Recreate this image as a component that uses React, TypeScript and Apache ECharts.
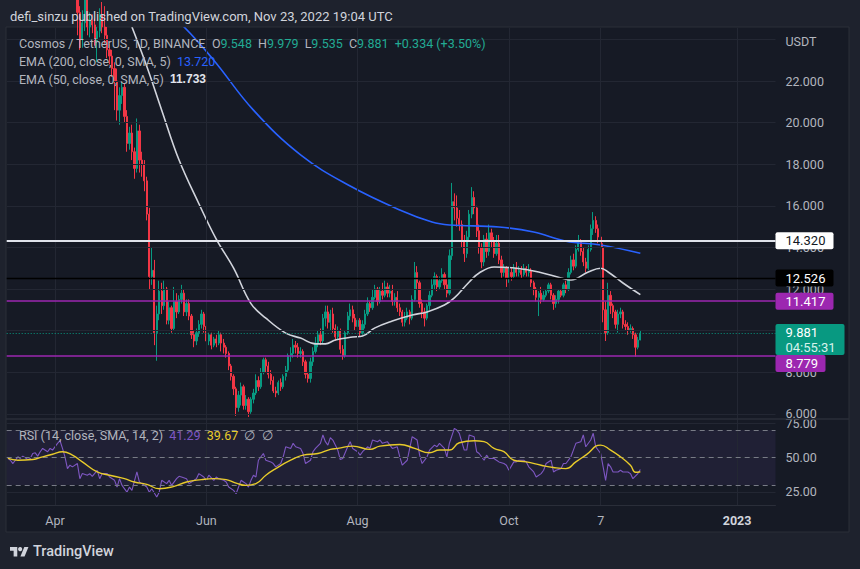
import { useEffect, useRef } from 'react';
import * as echarts from 'echarts';

const FONT = 'Roboto, "Noto Sans", Arial, sans-serif';

// ---- time axis ----
const START_DATE = [2022, 2, 13]; // 2022-03-13 (index 0)
const N_DAYS = 310;
const FIRST_CANDLE = 28; // 2022-04-10
const TIME_TICK_INDEX = [19, 80, 141, 202, 239, 294];
const TIME_TICK_LABELS = ['Apr', 'Jun', 'Aug', 'Oct', '7', '2023'];

// ---- daily candles from 2022-04-10 to 2022-11-23 ----
const OPEN = [
  26.5, 25.3, 24.0, 24.8, 25.9, 24.6, 24.9, 24.7, 23.9, 24.4,
  25.2, 24.6, 24.2, 23.5, 23.2, 22.6, 22.0, 20.6, 21.3, 21.7,
  20.3, 19.0, 19.5, 18.6, 17.8, 19.6, 18.2, 18.0, 17.2, 15.6,
  12.6, 12.9, 9.9, 10.8, 11.9, 11.2, 12.0, 10.5, 11.1, 10.1,
  11.4, 10.9, 11.5, 11.8, 10.9, 11.3, 10.7, 9.8, 9.5, 9.9,
  10.3, 10.8, 10.2, 9.5, 9.8, 9.3, 9.6, 9.4, 9.8, 9.4,
  9.2, 8.9, 8.3, 7.8, 7.2, 6.3, 6.9, 7.3, 6.4, 6.7,
  6.1, 6.7, 7.0, 7.6, 7.3, 8.0, 8.6, 8.3, 7.9, 7.6,
  7.1, 7.0, 7.5, 7.3, 7.8, 8.1, 8.8, 8.9, 9.3, 9.2,
  8.9, 9.0, 8.5, 7.9, 7.7, 8.5, 9.0, 9.4, 9.8, 9.5,
  10.6, 10.9, 10.4, 10.8, 10.1, 9.7, 10.0, 9.1, 8.8, 9.9,
  10.7, 11.0, 10.6, 10.2, 10.5, 9.9, 10.3, 10.8, 11.3, 11.1,
  11.6, 12.0, 11.4, 11.9, 11.7, 12.1, 11.8, 11.9, 11.4, 11.6,
  11.1, 10.9, 10.4, 10.6, 10.9, 10.6, 11.5, 12.8, 12.3, 11.3,
  10.9, 10.6, 11.2, 11.7, 12.2, 12.6, 12.1, 12.4, 12.7, 12.2,
  11.8, 13.6, 16.2, 15.9, 15.4, 15.1, 14.3, 13.7, 14.5, 15.6,
  16.4, 15.9, 14.8, 14.0, 13.3, 14.4, 13.8, 14.7, 14.3, 13.7,
  14.2, 13.4, 12.8, 13.0, 12.5, 12.8, 12.6, 13.0, 12.8, 12.9,
  12.7, 13.0, 12.8, 12.9, 12.3, 12.0, 11.6, 11.8, 11.5, 11.7,
  11.9, 12.2, 11.7, 11.3, 11.5, 11.9, 11.7, 12.2, 12.0, 12.8,
  13.4, 13.1, 13.9, 14.3, 13.8, 13.3, 13.0, 13.9, 14.9, 15.3,
  14.9, 14.5, 14.0, 11.0, 9.9, 11.7, 11.2, 10.9, 10.3, 10.8,
  10.9, 10.3, 10.2, 10.0, 10.1, 9.8, 9.2, 9.548,
];
const CLOSE = [
  25.3, 24.0, 24.8, 25.9, 24.6, 24.9, 24.7, 23.9, 24.4, 25.2,
  24.6, 24.2, 23.5, 23.2, 22.6, 22.0, 20.6, 21.3, 21.7, 20.3,
  19.0, 19.5, 18.6, 17.8, 19.6, 18.2, 18.0, 17.2, 15.6, 12.6,
  12.9, 9.9, 10.8, 11.9, 11.2, 12.0, 10.5, 11.1, 10.1, 11.4,
  10.9, 11.5, 11.8, 10.9, 11.3, 10.7, 9.8, 9.5, 9.9, 10.3,
  10.8, 10.2, 9.5, 9.8, 9.3, 9.6, 9.4, 9.8, 9.4, 9.2,
  8.9, 8.3, 7.8, 7.2, 6.3, 6.9, 7.3, 6.4, 6.7, 6.1,
  6.7, 7.0, 7.6, 7.3, 8.0, 8.6, 8.3, 7.9, 7.6, 7.1,
  7.0, 7.5, 7.3, 7.8, 8.1, 8.8, 8.9, 9.3, 9.2, 8.9,
  9.0, 8.5, 7.9, 7.7, 8.5, 9.0, 9.4, 9.8, 9.5, 10.6,
  10.9, 10.4, 10.8, 10.1, 9.7, 10.0, 9.1, 8.8, 9.9, 10.7,
  11.0, 10.6, 10.2, 10.5, 9.9, 10.3, 10.8, 11.3, 11.1, 11.6,
  12.0, 11.4, 11.9, 11.7, 12.1, 11.8, 11.9, 11.4, 11.6, 11.1,
  10.9, 10.4, 10.6, 10.9, 10.6, 11.5, 12.8, 12.3, 11.3, 10.9,
  10.6, 11.2, 11.7, 12.2, 12.6, 12.1, 12.4, 12.7, 12.2, 11.8,
  13.6, 16.2, 15.9, 15.4, 15.1, 14.3, 13.7, 14.5, 15.6, 16.4,
  15.9, 14.8, 14.0, 13.3, 14.4, 13.8, 14.7, 14.3, 13.7, 14.2,
  13.4, 12.8, 13.0, 12.5, 12.8, 12.6, 13.0, 12.8, 12.9, 12.7,
  13.0, 12.8, 12.9, 12.3, 12.0, 11.6, 11.8, 11.5, 11.7, 11.9,
  12.2, 11.7, 11.3, 11.5, 11.9, 11.7, 12.2, 12.0, 12.8, 13.4,
  13.1, 13.9, 14.3, 13.8, 13.3, 13.0, 13.9, 14.9, 15.3, 14.9,
  14.5, 14.0, 11.0, 9.9, 11.7, 11.2, 10.9, 10.3, 10.8, 10.9,
  10.3, 10.2, 10.0, 10.1, 9.8, 9.2, 9.548, 9.881,
];
const LOW = [
  24.2, 23.5, 23.6, 24.4, 24.2, 24.1, 24.3, 23.7, 22.9, 24.1,
  24.3, 23.8, 23.1, 22.8, 22.2, 20.6, 20.1, 19.9, 20.9, 20.0,
  18.6, 18.7, 18.2, 17.3, 17.6, 17.6, 17.4, 16.7, 15.3, 12.0,
  12.2, 9.3, 8.55, 10.5, 10.8, 11.0, 10.3, 10.3, 9.9, 10.0,
  10.6, 10.8, 11.3, 10.7, 10.7, 10.5, 9.6, 9.2, 9.3, 9.7,
  10.1, 9.9, 9.3, 9.3, 9.1, 9.2, 9.2, 9.3, 9.0, 8.9,
  8.7, 8.1, 7.6, 6.9, 5.9, 6.1, 6.4, 6.2, 6.2, 5.85,
  6.0, 6.5, 6.9, 7.1, 7.2, 7.9, 8.0, 7.7, 7.4, 7.0,
  6.8, 6.9, 7.1, 7.2, 7.6, 8.0, 8.5, 8.7, 8.9, 8.7,
  8.7, 8.3, 7.7, 7.5, 7.5, 8.3, 8.9, 9.2, 9.3, 9.4,
  10.2, 10.1, 10.0, 9.9, 9.5, 9.6, 8.9, 8.6, 8.7, 9.8,
  10.5, 10.4, 10.0, 9.9, 9.7, 9.8, 10.1, 10.7, 10.9, 11.0,
  11.5, 11.2, 11.3, 11.5, 11.6, 11.6, 11.6, 11.2, 11.2, 10.9,
  10.7, 10.2, 10.2, 10.5, 10.3, 10.5, 11.4, 12.0, 11.1, 10.6,
  10.2, 10.5, 11.0, 11.6, 12.0, 11.9, 12.0, 12.3, 12.0, 11.6,
  11.7, 13.4, 15.3, 15.0, 14.8, 14.0, 13.3, 13.5, 14.3, 15.4,
  15.6, 14.5, 13.7, 13.0, 13.1, 13.5, 13.6, 14.0, 13.5, 13.6,
  13.2, 12.5, 12.6, 12.1, 12.3, 12.4, 12.5, 12.6, 12.6, 12.5,
  12.6, 12.6, 12.6, 12.1, 11.7, 11.4, 10.7, 11.3, 11.4, 11.6,
  11.8, 11.5, 11.0, 11.1, 11.3, 11.6, 11.6, 11.8, 11.9, 12.7,
  12.9, 13.0, 13.8, 13.6, 13.1, 12.8, 12.9, 13.8, 14.6, 14.7,
  14.2, 13.8, 10.4, 9.5, 9.8, 10.8, 10.6, 10.1, 9.9, 10.6,
  10.1, 10.0, 9.8, 9.9, 9.6, 8.75, 9.1, 9.535,
];
const HIGH = [
  27.0, 25.6, 25.4, 26.3, 26.2, 25.3, 25.2, 25.0, 24.6, 25.5,
  25.8, 25.6, 24.6, 23.8, 23.5, 22.9, 22.6, 21.7, 22.0, 21.9,
  20.6, 19.8, 19.9, 18.8, 20.2, 19.9, 18.6, 18.2, 17.4, 15.9,
  14.0, 13.4, 11.2, 12.4, 12.3, 12.4, 12.1, 11.4, 11.2, 12.1,
  11.8, 11.7, 12.2, 12.0, 11.5, 11.5, 10.8, 10.0, 10.1, 10.5,
  11.0, 10.9, 10.4, 9.9, 9.9, 9.7, 9.8, 10.0, 9.9, 9.6,
  9.3, 9.0, 8.4, 7.9, 7.3, 7.1, 7.5, 7.4, 6.9, 6.8,
  6.8, 7.2, 7.9, 7.8, 8.2, 8.7, 8.7, 8.5, 8.1, 7.8,
  7.3, 7.6, 7.7, 7.9, 8.3, 8.9, 9.2, 9.6, 9.5, 9.4,
  9.2, 9.1, 8.6, 8.0, 8.7, 9.2, 9.7, 10.0, 10.1, 10.8,
  11.2, 11.2, 11.0, 11.1, 10.3, 10.2, 10.1, 9.3, 10.0, 10.9,
  11.3, 11.2, 10.8, 10.7, 10.6, 10.5, 11.0, 11.6, 11.4, 12.0,
  12.2, 12.1, 12.1, 12.3, 12.4, 12.3, 12.2, 12.2, 11.8, 11.9,
  11.3, 11.0, 10.9, 11.1, 11.0, 11.7, 13.3, 13.1, 12.4, 11.5,
  11.1, 11.3, 11.9, 12.5, 12.8, 12.7, 12.6, 13.0, 12.8, 12.5,
  13.9, 17.1, 16.6, 16.5, 15.8, 15.3, 14.6, 14.8, 15.8, 16.9,
  16.7, 16.0, 15.1, 14.2, 14.6, 14.7, 15.1, 14.9, 14.5, 14.6,
  14.6, 13.6, 13.2, 13.1, 13.0, 13.0, 13.2, 13.3, 13.1, 13.1,
  13.2, 13.1, 13.2, 13.0, 12.4, 12.1, 11.9, 12.1, 11.9, 12.0,
  12.3, 12.3, 11.8, 11.7, 12.0, 12.0, 12.3, 12.4, 13.0, 13.6,
  13.7, 14.1, 14.6, 14.4, 14.0, 13.5, 14.1, 15.1, 15.7, 15.5,
  15.1, 14.7, 14.2, 11.4, 12.3, 11.9, 11.3, 11.0, 11.0, 11.1,
  11.0, 10.5, 10.4, 10.3, 10.2, 9.9, 9.7, 9.979,
];

// ---- moving averages [day index, value] ----
const EMA200 = [
  [67, 24.9], [71, 24.6], [83, 23.0], [99, 20.6], [118, 18.45], [138, 16.95],
  [158, 15.8], [171, 15.22], [178, 15.08], [198, 14.98], [212, 14.74],
  [225, 14.3], [239, 14.12], [255, 13.72],
];
const EMA50 = [
  [50, 24.6], [56, 22.7], [62, 20.6], [69, 18.2], [77, 16.1], [84, 14.4],
  [91, 13.0], [98, 11.3], [104, 10.6], [112, 9.88], [118, 9.64], [124, 9.36],
  [128, 9.36], [132, 9.55], [139, 9.69], [143, 9.74], [148, 10.13], [155, 10.46],
  [163, 10.75], [169, 10.9], [176, 11.23], [180, 11.57], [186, 12.34], [190, 12.77],
  [196, 13.06], [205, 13.0], [214, 12.82], [223, 12.53], [227, 12.43], [234, 12.82],
  [239, 13.0], [242, 12.82], [248, 12.29], [255, 11.733],
];

// ---- RSI (14) and its SMA (14) ----
const RSI = [
  [0, 49.5], [1, 48.0], [2, 45.6], [4, 50.5], [5, 49.3], [6, 51.0], [8, 48.5], [9, 49.3],
  [10, 52.9], [11, 53.4], [12, 51.0], [13, 54.2], [14, 56.6], [16, 54.2], [17, 56.6],
  [18, 55.4], [20, 60.3], [21, 62.2], [22, 56.6], [23, 50.5], [24, 41.9], [25, 44.4],
  [26, 43.2], [28, 45.6], [29, 34.6], [30, 38.3], [32, 37.1], [33, 38.3], [34, 36.3],
  [36, 40.7], [37, 34.6], [38, 38.3], [40, 38.3], [41, 35.8], [43, 33.4], [44, 28.5],
  [45, 34.6], [46, 29.7], [48, 24.8], [49, 28.5], [50, 26.1], [52, 39.5], [53, 32.2],
  [54, 31.0], [56, 28.5], [57, 24.8], [58, 27.3], [60, 21.2], [61, 24.8], [62, 33.4],
  [64, 31.0], [65, 33.4], [66, 29.7], [68, 34.6], [69, 36.3], [70, 35.8], [72, 34.6],
  [73, 31.0], [74, 32.2], [76, 34.6], [77, 38.3], [79, 35.8], [80, 33.4], [81, 37.1],
  [83, 33.4], [84, 35.8], [85, 34.6], [87, 33.4], [88, 32.2], [89, 28.5], [91, 26.1],
  [92, 23.6], [93, 28.5], [94, 33.4], [95, 32.2], [96, 31.0], [97, 28.5], [98, 33.4],
  [99, 37.1], [100, 35.8], [101, 48.0], [103, 52.9], [104, 48.0], [106, 46.8],
  [107, 45.6], [108, 43.2], [110, 45.6], [111, 50.5], [112, 57.8], [114, 56.6],
  [115, 60.3], [116, 57.8], [118, 56.6], [119, 52.9], [120, 45.6], [122, 48.0],
  [123, 54.2], [124, 56.6], [126, 60.3], [127, 66.4], [128, 61.5], [129, 59.0],
  [130, 64.5], [131, 62.7], [133, 55.4], [134, 48.5], [135, 49.3], [137, 57.8],
  [138, 61.5], [139, 56.6], [141, 54.2], [142, 51.7], [143, 54.2], [145, 57.8],
  [146, 56.6], [147, 62.7], [149, 61.5], [150, 62.7], [151, 60.3], [153, 61.5],
  [154, 59.0], [155, 56.6], [157, 57.8], [158, 50.5], [159, 44.4], [161, 48.0],
  [162, 56.6], [163, 65.1], [165, 62.7], [166, 51.7], [167, 45.6], [169, 50.5],
  [170, 55.4], [172, 59.0], [173, 57.8], [174, 60.3], [176, 56.6], [177, 50.5],
  [178, 60.3], [180, 71.2], [181, 70.0], [182, 67.6], [184, 55.4], [185, 55.4],
  [186, 66.4], [188, 65.1], [189, 54.2], [190, 52.9], [192, 48.0], [193, 51.7],
  [194, 49.3], [196, 49.3], [197, 48.0], [198, 46.8], [200, 45.6], [201, 44.4],
  [202, 40.7], [204, 46.8], [205, 46.8], [206, 48.0], [208, 48.0], [209, 46.8],
  [210, 43.2], [212, 39.5], [213, 35.8], [215, 38.3], [216, 40.7], [217, 45.6],
  [219, 48.0], [220, 39.5], [221, 40.7], [223, 41.9], [224, 45.6], [225, 45.6],
  [227, 50.5], [228, 55.4], [229, 60.3], [231, 61.5], [232, 66.4], [233, 57.8],
  [235, 62.7], [236, 67.6], [237, 57.8], [239, 52.9], [240, 43.2], [241, 33.4],
  [242, 45.6], [243, 43.2], [244, 39.5], [246, 39.5], [247, 40.7], [248, 39.5],
  [250, 39.5], [251, 38.3], [252, 34.6], [254, 38.3], [255, 41.29],
];
const RSI_MA = [
  [0, 49.3], [4, 48.0], [10, 48.5], [14, 50.5], [18, 52.4], [22, 54.2], [26, 51.7],
  [30, 46.8], [36, 39.5], [41, 37.1], [47, 34.6], [51, 32.2], [56, 30.5], [61, 27.3],
  [67, 29.0], [72, 32.2], [78, 33.9], [83, 34.6], [88, 33.9], [92, 31.4], [96, 29.7],
  [100, 31.0], [104, 37.1], [108, 41.9], [114, 48.0], [119, 51.7], [125, 52.9],
  [130, 55.9], [133, 56.6], [139, 58.3], [146, 55.9], [150, 58.3], [158, 59.5],
  [164, 56.6], [170, 53.4], [174, 55.4], [178, 55.4], [182, 60.7], [188, 62.2],
  [192, 61.5], [196, 56.6], [200, 54.2], [204, 48.0], [209, 46.8], [215, 44.4],
  [220, 42.7], [225, 41.9], [229, 46.8], [233, 51.7], [239, 59.0], [243, 55.4],
  [247, 50.5], [251, 44.4], [253, 39.3], [255, 39.67],
];

// ---- levels and axes ----
const PRICE_GRID = [6, 8, 10, 12, 14, 16, 18, 20, 22, 24];
const PRICE_LABELS = [6, 8, 10, 12, 14, 16, 18, 20, 22];
const RSI_LABELS = [25, 50, 75];
const RSI_BANDS = [30, 50, 70];
const LEVEL_WHITE = 14.32;
const LEVEL_BLACK = 12.526;
const LEVEL_PURPLE = [11.417, 8.779];
const LAST_PRICE = 9.881;
const COUNTDOWN = '04:55:31';
const CHANGE_TEXT = '+0.334 (+3.50%)';
const RSI_LAST = '41.29';
const RSI_MA_LAST = '39.67';

const UP = '#089981';
const DOWN = '#F23645';
const TEXT = '#B2B5BE';
const GRIDC = '#232733';
const PANEL = '#161A25';
const OUTER = '#1E222D';

const GL = 6.7;
const GW = 768.8;

function buildCategories() {
  const out: string[] = [];
  for (let i = 0; i < N_DAYS; i++) {
    const d = new Date(Date.UTC(START_DATE[0], START_DATE[1], START_DATE[2] + i));
    out.push(d.toISOString().slice(0, 10));
  }
  return out;
}

export default function App() {
  const ref = useRef<HTMLDivElement>(null);
  useEffect(() => {
    document.body.style.margin = '0';
    const chart = echarts.init(ref.current!, null, { renderer: 'svg' });
    const cats = buildCategories();
    const candles: any[] = cats.map((_, i) => {
      const j = i - FIRST_CANDLE;
      if (j < 0 || j >= CLOSE.length) return '-';
      return [OPEN[j], CLOSE[j], LOW[j], HIGH[j]];
    });
    const vGrid = TIME_TICK_INDEX.map((i) => ({ xAxis: i }));
    const hidden = { show: false };

    const option: any = {
      animation: false,
      backgroundColor: OUTER,
      textStyle: { fontFamily: FONT },
      grid: [
        { left: GL, width: GW, top: 28, height: 391 },
        { left: GL, width: GW, top: 419, height: 86 },
      ],
      xAxis: [
        {
          type: 'category', gridIndex: 0, data: cats, boundaryGap: true,
          axisLine: hidden, axisTick: hidden, axisLabel: hidden, splitLine: hidden,
        },
        {
          type: 'category', gridIndex: 1, data: cats, boundaryGap: true,
          axisLine: { show: true, lineStyle: { color: '#2A2E39' } },
          axisTick: hidden, splitLine: hidden,
          axisLabel: {
            show: true,
            interval: (i: number) => TIME_TICK_INDEX.includes(i),
            formatter: (_v: string, i: number) => {
              const k = TIME_TICK_INDEX.indexOf(i);
              if (k < 0) return '';
              return k === TIME_TICK_LABELS.length - 1 ? `{b|${TIME_TICK_LABELS[k]}}` : TIME_TICK_LABELS[k];
            },
            color: TEXT, fontSize: 12.5, fontFamily: FONT, margin: 9,
            rich: { b: { fontWeight: 'bold', color: '#D1D4DC', fontSize: 12.5, fontFamily: FONT } },
          },
        },
      ],
      yAxis: [
        {
          type: 'value', gridIndex: 0, position: 'right', min: 5.75, max: 24.55, scale: true,
          axisLine: hidden, axisTick: hidden, splitLine: hidden,
          axisLabel: {
            customValues: PRICE_LABELS, formatter: (v: number) => v.toFixed(3),
            color: TEXT, fontSize: 12.5, fontFamily: FONT, margin: 10,
          },
        },
        {
          type: 'value', gridIndex: 1, position: 'right', min: 15.45, max: 78,
          axisLine: hidden, axisTick: hidden, splitLine: hidden,
          axisLabel: {
            customValues: RSI_LABELS, formatter: (v: number) => v.toFixed(2),
            color: TEXT, fontSize: 12.5, fontFamily: FONT, margin: 10,
          },
        },
      ],
      series: [
        {
          type: 'line', xAxisIndex: 0, yAxisIndex: 0, data: [], z: 1, silent: true,
          markLine: {
            silent: true, symbol: 'none', label: hidden, animation: false,
            lineStyle: { color: GRIDC, width: 1, type: 'solid' },
            data: [...PRICE_GRID.map((v) => ({ yAxis: v })), ...vGrid],
          },
        },
        {
          type: 'line', xAxisIndex: 1, yAxisIndex: 1, data: [], z: 1, silent: true,
          markArea: {
            silent: true, itemStyle: { color: 'rgba(126,87,194,0.10)' },
            data: [[{ yAxis: RSI_BANDS[0] }, { yAxis: RSI_BANDS[2] }]],
          },
          markLine: {
            silent: true, symbol: 'none', label: hidden, animation: false,
            lineStyle: { color: GRIDC, width: 1, type: 'solid' },
            data: [...RSI_LABELS.map((v) => ({ yAxis: v })), ...vGrid],
          },
        },
        {
          type: 'line', xAxisIndex: 1, yAxisIndex: 1, data: [], z: 2, silent: true,
          markLine: {
            silent: true, symbol: 'none', label: hidden, animation: false,
            lineStyle: { color: '#787B86', width: 1, type: [5, 4] },
            data: RSI_BANDS.map((v) => ({ yAxis: v })),
          },
        },
        {
          name: 'ATOM', type: 'candlestick', xAxisIndex: 0, yAxisIndex: 0, z: 3,
          data: candles, barWidth: 1.8, clip: true,
          itemStyle: { color: UP, color0: DOWN, borderColor: UP, borderColor0: DOWN, borderWidth: 1 },
        },
        {
          name: 'EMA200', type: 'line', xAxisIndex: 0, yAxisIndex: 0, z: 4, data: EMA200,
          smooth: 0.4, showSymbol: false, symbol: 'none', clip: true,
          lineStyle: { color: '#2962FF', width: 1.6 },
        },
        {
          name: 'EMA50', type: 'line', xAxisIndex: 0, yAxisIndex: 0, z: 4, data: EMA50,
          smooth: 0.4, showSymbol: false, symbol: 'none', clip: true,
          lineStyle: { color: '#D1D4DC', width: 1.6 },
        },
        {
          type: 'line', xAxisIndex: 0, yAxisIndex: 0, data: [], z: 5, silent: true,
          markLine: {
            silent: true, symbol: 'none', label: hidden, animation: false,
            data: [
              { yAxis: LEVEL_WHITE, lineStyle: { color: '#E0E3EB', width: 1.8, type: 'solid' } },
              { yAxis: LEVEL_BLACK, lineStyle: { color: '#000000', width: 1.4, type: 'solid' } },
              ...LEVEL_PURPLE.map((v) => ({ yAxis: v, lineStyle: { color: '#9C27B0', width: 1.6, type: 'solid' } })),
              { yAxis: LAST_PRICE, lineStyle: { color: UP, width: 1, type: [1, 2] } },
            ],
          },
        },
        {
          name: 'RSI', type: 'line', xAxisIndex: 1, yAxisIndex: 1, z: 4, data: RSI,
          showSymbol: false, symbol: 'none', lineStyle: { color: '#7E57C2', width: 1.1 },
        },
        {
          name: 'RSI MA', type: 'line', xAxisIndex: 1, yAxisIndex: 1, z: 5, data: RSI_MA,
          smooth: 0.5, showSymbol: false, symbol: 'none', lineStyle: { color: '#E8CB2A', width: 1.4 },
        },
      ],
    };
    chart.setOption(option);

    const py = (v: number) => chart.convertToPixel({ yAxisIndex: 0 }, v) as number;
    const AX = 775.5;
    const boxFont = `13px ${FONT}`;
    const box = (top: number, h: number, w: number, bg: string, text: string, fg: string, rich?: any) => ({
      type: 'group', z: 60,
      children: [
        { type: 'rect', z: 60, shape: { x: AX, y: top, width: w, height: h, r: 2 }, style: { fill: bg } },
        {
          type: 'text', z: 61,
          style: { x: AX + 10, y: top + h / 2, text, fill: fg, font: boxFont, verticalAlign: 'middle', align: 'left', rich, lineHeight: 15 },
        },
      ],
    });
    const yLast = py(LAST_PRICE);
    const greenTop = yLast - 9;
    const greenH = 31;
    const p2Top = Math.max(py(LEVEL_PURPLE[1]) - 8.5, greenTop + greenH);

    const legend = (y: number, text: string, rich: any) => ({
      type: 'text', z: 100,
      style: { x: 19, y, text, fill: TEXT, font: `12.5px ${FONT}`, verticalAlign: 'middle', rich },
    });
    const g = (c: string, extra: any = {}) => ({ fill: c, font: `12.5px ${FONT}`, ...extra });
    const j = CLOSE.length - 1;

    chart.setOption({
      graphic: [
        { type: 'rect', z: -10, silent: true, shape: { x: 6, y: 27, width: 843, height: 505 }, style: { fill: PANEL, stroke: '#2A2E39', lineWidth: 1 } },
        { type: 'line', z: 50, silent: true, shape: { x1: 6, y1: 419, x2: 849, y2: 419 }, style: { stroke: '#2A2E39', lineWidth: 1.5 } },
        {
          type: 'text', z: 100,
          style: { x: 10, y: 16, text: 'defi_sinzu published on TradingView.com, Nov 23, 2022 19:04 UTC', fill: '#D1D4DC', font: `13px ${FONT}`, verticalAlign: 'middle' },
        },
        legend(43,
          `{g|Cosmos / TetherUS, 1D, BINANCE}  {g|O}{v|${OPEN[j].toFixed(3)}}  {g|H}{v|${HIGH[j].toFixed(3)}}  {g|L}{v|${LOW[j].toFixed(3)}}  {g|C}{v|${CLOSE[j].toFixed(3)}}  {v|${CHANGE_TEXT}}`,
          { g: g(TEXT), v: g('#22AB94') }),
        legend(61, `{g|EMA (200, close, 0, SMA, 5)}  {b|${EMA200[EMA200.length - 1][1].toFixed(3)}}`,
          { g: g(TEXT), b: g('#2962FF') }),
        legend(79, `{g|EMA (50, close, 0, SMA, 5)}  {w|${EMA50[EMA50.length - 1][1].toFixed(3)}}`,
          { g: g(TEXT), w: g('#E0E3EB', { fontWeight: 'bold' }) }),
        legend(435, `{g|RSI (14, close, SMA, 14, 2)}  {p|${RSI_LAST}}  {y|${RSI_MA_LAST}}  {g|∅  ∅}`,
          { g: g(TEXT), p: g('#7E57C2'), y: g('#E8CB2A') }),
        {
          type: 'text', z: 100,
          style: { x: 785.5, y: 41, text: 'USDT', fill: TEXT, font: `12.5px ${FONT}`, verticalAlign: 'middle' },
        },
        box(py(LEVEL_WHITE) - 8.5, 17, 58, '#FFFFFF', LEVEL_WHITE.toFixed(3), '#131722'),
        box(py(LEVEL_BLACK) - 8.5, 17, 58, '#000000', LEVEL_BLACK.toFixed(3), '#FFFFFF'),
        box(py(LEVEL_PURPLE[0]) - 8.5, 17, 58, '#9C27B0', LEVEL_PURPLE[0].toFixed(3), '#FFFFFF'),
        box(greenTop, greenH, 69, UP, `{a|${LAST_PRICE.toFixed(3)}}\n{b|${COUNTDOWN}}`, '#FFFFFF', {
          a: { fill: '#FFFFFF', font: boxFont, lineHeight: 15 },
          b: { fill: '#D6F2EC', font: boxFont, lineHeight: 15 },
        }),
        box(p2Top, 17, 50, '#9C27B0', LEVEL_PURPLE[1].toFixed(3), '#FFFFFF'),
        {
          type: 'group', x: 10, y: 545, scaleX: 0.52, scaleY: 0.52, z: 100,
          children: [
            { type: 'polygon', shape: { points: [[0, 4], [14, 4], [14, 22], [7, 22], [7, 11], [0, 11]] }, style: { fill: '#D1D4DC' } },
            { type: 'circle', shape: { cx: 19.5, cy: 8, r: 4 }, style: { fill: '#D1D4DC' } },
            { type: 'polygon', shape: { points: [[27.5, 4], [35.5, 4], [28, 22], [20, 22]] }, style: { fill: '#D1D4DC' } },
          ],
        },
        {
          type: 'text', z: 100,
          style: { x: 33, y: 551, text: 'TradingView', fill: '#D1D4DC', font: `500 14.5px ${FONT}`, verticalAlign: 'middle' },
        },
      ],
    });

    return () => chart.dispose();
  }, []);
  return <div ref={ref} style={{ width: 860, height: 569 }} />;
}
